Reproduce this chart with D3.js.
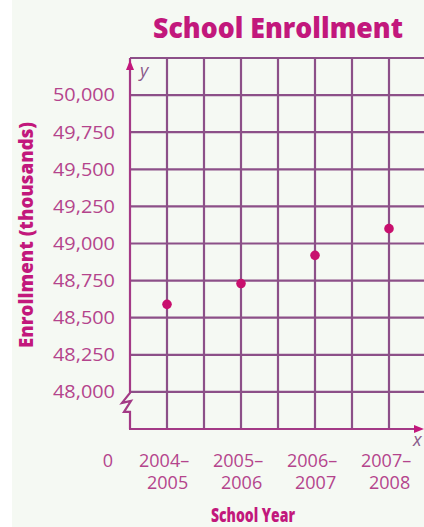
<!DOCTYPE html>
<html><head><meta charset="utf-8">
<script src="https://cdn.jsdelivr.net/npm/d3@7"></script>
<style>
html,body{margin:0;padding:0;background:#fff;}
svg{display:block;}
</style></head>
<body>
<svg id="chart" width="424" height="527"></svg>
<script>
const categories = ["2004–2005", "2005–2006", "2006–2007", "2007–2008"];
const enrollment = [48590, 48730, 48920, 49100];
const yTicks = [48000, 48250, 48500, 48750, 49000, 49250, 49500, 49750, 50000];
const title = "School Enrollment";
const xTitle = "School Year";
const yTitle = "Enrollment (thousands)";

const svg = d3.select("#chart");
const W = 424, H = 527;
const pink = "#c2187c";
const tickCol = "#b4448c";
const gridCol = "#8c5088";
const font = "'Open Sans',sans-serif";

svg.append("rect").attr("x", 12).attr("y", 0).attr("width", W - 12).attr("height", H).attr("fill", "#f5f9f3");

// scales
const y = d3.scaleLinear().domain([47750, 50250]).range([429, 58]);
const x = d3.scaleLinear().domain([0, 8]).range([130, 426]);
const xCat = (i) => x(2 * i + 1);

// grid: horizontal
const hVals = d3.range(47750, 50251, 250);
svg.append("g").selectAll("line").data(hVals.slice(1)).join("line")
  .attr("x1", x(0)).attr("x2", W)
  .attr("y1", d => y(d)).attr("y2", d => y(d))
  .attr("stroke", gridCol).attr("stroke-width", 2.2);
// grid: vertical
svg.append("g").selectAll("line").data(d3.range(1, 8)).join("line")
  .attr("x1", d => x(d)).attr("x2", d => x(d))
  .attr("y1", y(50250)).attr("y2", y(47750))
  .attr("stroke", gridCol).attr("stroke-width", 2.2);

// y axis with break
const ax = x(0);
svg.append("path")
  .attr("d", `M${ax},${y(50250)}V${y(48000)+1}L${ax-8},${y(48000)+11}L${ax+1},${y(48000)+9}L${ax-6},${y(48000)+20}L${ax},${y(48000)+20}V${y(47750)}`)
  .attr("fill", "none").attr("stroke", "#a33a86").attr("stroke-width", 2.2).attr("stroke-linejoin", "miter");
// x axis
svg.append("line").attr("x1", ax - 1).attr("x2", 416).attr("y1", y(47750)).attr("y2", y(47750))
  .attr("stroke", "#a33a86").attr("stroke-width", 2.2);
// arrowheads
svg.append("path").attr("d", `M${ax},${y(50250)+2}l-4,10h8z`).attr("fill", pink);
svg.append("path").attr("d", `M424,${y(47750)}l-10,-4v8z`).attr("fill", pink);
svg.append("text").attr("x", 140).attr("y", 77).text("y")
  .attr("font-family", font).attr("font-style", "italic").attr("font-size", 18).attr("fill", "#8a5a8a");
svg.append("text").attr("x", 413).attr("y", 446).text("x")
  .attr("font-family", font).attr("font-style", "italic").attr("font-size", 18).attr("fill", "#8a5a8a");

// y tick labels
svg.append("g").selectAll("text").data(yTicks).join("text")
  .attr("x", 115).attr("y", d => y(d)).attr("dy", "0.35em")
  .attr("text-anchor", "end").attr("font-family", font).attr("font-size", 18)
  .attr("fill", tickCol).attr("textLength", 62).attr("lengthAdjust", "spacingAndGlyphs")
  .text(d => d3.format(",")(d));
svg.append("text").attr("x", 108).attr("y", 467).attr("text-anchor", "middle")
  .attr("font-family", font).attr("font-size", 18).attr("fill", tickCol).text("0");

// x category labels (two lines each)
const xg = svg.append("g").attr("font-family", font).attr("font-size", 18).attr("fill", tickCol);
xg.selectAll("text.l1").data(categories).join("text").attr("class", "l1")
  .attr("x", (d, i) => xCat(i) - 28).attr("y", 467)
  .text(d => d.split("–")[0] + "–");
xg.selectAll("text.l2").data(categories).join("text").attr("class", "l2")
  .attr("x", (d, i) => xCat(i) - 20).attr("y", 489)
  .text(d => d.split("–")[1]);

// points
svg.append("g").selectAll("circle").data(enrollment).join("circle")
  .attr("cx", (d, i) => xCat(i)).attr("cy", d => y(d)).attr("r", 4.8).attr("fill", "#c8106e");

// titles
svg.append("text").attr("x", 153).attr("y", 38).text(title)
  .attr("font-family", font).attr("font-weight", 800).attr("font-size", 28).attr("fill", pink)
  .attr("textLength", 250).attr("lengthAdjust", "spacingAndGlyphs");
svg.append("text").attr("x", 211).attr("y", 522).text(xTitle)
  .attr("font-family", font).attr("font-weight", 800).attr("font-size", 20).attr("fill", pink)
  .attr("textLength", 84).attr("lengthAdjust", "spacingAndGlyphs");
svg.append("text").attr("transform", "translate(33,348) rotate(-90)").text(yTitle)
  .attr("font-family", font).attr("font-weight", 800).attr("font-size", 20).attr("fill", pink)
  .attr("textLength", 226).attr("lengthAdjust", "spacingAndGlyphs");
</script>
</body></html>
